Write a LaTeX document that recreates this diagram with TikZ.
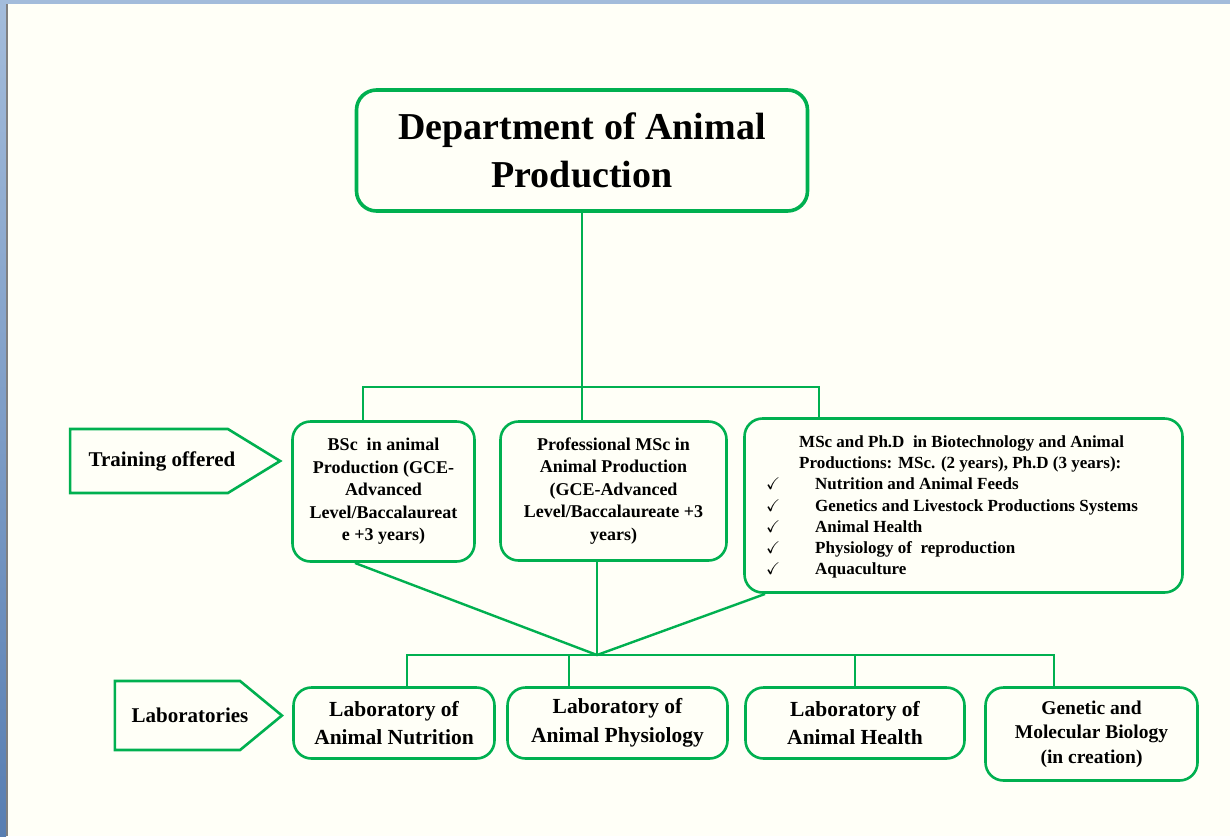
\documentclass[tikz,border=0pt]{standalone}
\usepackage{fontspec}
\usepackage{amssymb}
\setmainfont{Liberation Serif}
\usetikzlibrary{shapes.symbols}

\definecolor{boxgreen}{RGB}{0,176,80}
\definecolor{pageivory}{RGB}{255,255,247}
\definecolor{frameblue}{RGB}{163,188,219}
\definecolor{framedark}{RGB}{88,126,178}

\begin{document}
\begin{tikzpicture}[x=1pt,y=-1pt,
    box/.style={draw=boxgreen,line width=2.6pt,rounded corners=18pt,fill=pageivory,
      align=center,inner sep=0pt,font=\bfseries\fontsize{18}{22.5}\selectfont},
    labbox/.style={box,font=\bfseries\fontsize{21.5}{28.5}\selectfont},
    tagbox/.style={draw=boxgreen,line width=2.6pt,shape=signal,signal to=east,inner sep=0pt},
    tagtext/.style={inner sep=0pt,font=\bfseries\fontsize{21}{24}\selectfont},
    link/.style={draw=boxgreen,line width=2.4pt}]
    \useasboundingbox (0,0) rectangle (1230,836);

    % Page and window frame
    \fill[pageivory] (0,0) rectangle (1230,836);
    \fill[frameblue] (0,0) rectangle (1230,4);
    \shade[top color=frameblue,bottom color=framedark] (0,4) rectangle (6,836);
    \fill[gray] (6,4) rectangle (8,836);

    % Department
    \node[box,line width=3.6pt,rounded corners=20pt,minimum width=451,minimum height=121,
      font=\bfseries\fontsize{38}{48}\selectfont] (dept) at (582,150.5)
      {Department of Animal\\Production};

    % Training offered
    \node[box] (bsc) at (383.5,491.5) [minimum width=182,minimum height=140]
      {BSc\ \ in animal\\Production (GCE-\\Advanced\\Level/Baccalaureat\\e +3 years)};
    \node[box] (msc) at (613.5,491) [minimum width=226,minimum height=139]
      {Professional MSc in\\Animal Production\\(GCE-Advanced\\Level/Baccalaureate +3\\years)};
    \node[box] (phd) at (963.5,505.5) [minimum width=438,minimum height=174] {};
    \node[anchor=north west,inner sep=0pt,align=left,
      font=\bfseries\fontsize{17}{21.3}\selectfont] (phdtext) at (766,432) {%
      \begin{tabular}{@{}p{49pt}@{}l@{}}
        \multicolumn{2}{@{\hspace{33pt}}l@{}}{MSc and Ph.D\ \ in Biotechnology and Animal}\\
        \multicolumn{2}{@{\hspace{33pt}}l@{}}{Productions: MSc. (2 years), Ph.D (3 years):}\\
        $\checkmark$ & Nutrition and Animal Feeds\\
        $\checkmark$ & Genetics and Livestock Productions Systems\\
        $\checkmark$ & Animal Health\\
        $\checkmark$ & Physiology of\ \ reproduction\\
        $\checkmark$ & Aquaculture
      \end{tabular}};

    % Laboratories
    \node[labbox] (labnut) at (394,723) [minimum width=201,minimum height=71]
      {Laboratory of\\Animal Nutrition};
    \node[labbox] (labphy) at (617.5,723) [minimum width=220,minimum height=71]
      {Laboratory of\\Animal Physiology};
    \node[labbox] (labhea) at (855,723) [minimum width=219,minimum height=71]
      {Laboratory of\\Animal Health};
    \node[labbox,font=\bfseries\fontsize{19.5}{24.5}\selectfont] (labgen) at (1091.5,734)
      [minimum width=212,minimum height=93]
      {Genetic and\\Molecular Biology\\(in creation)};

    % Side tags
    \node[tagbox,minimum width=210,minimum height=64,signal pointer angle=63] (trainingtag)
      at (149,461) {};
    \node[tagtext] (trainingtext) at (162,461) {Training offered};
    \node[tagbox,minimum width=167,minimum height=69,signal pointer angle=79] (labtag)
      at (177.5,715.5) {};
    \node[tagtext] (labtext) at (190,715.5) {Laboratories};

    % Upper connectors
    \coordinate (topbus) at (582,387);
    \coordinate (bscin) at (363,420);
    \coordinate (phdin) at (819,417);
    \draw[link] (dept.south) -- (dept.south |- msc.north);
    \draw[link] (bscin) -- (bscin |- topbus) -- (phdin |- topbus) -- (phdin);

    % Lower connectors
    \coordinate (hub) at (597,655);
    \coordinate (bscout) at (355,563);
    \coordinate (mscout) at (597,562);
    \coordinate (phdout) at (765,594);
    \coordinate (nutin) at (407,686);
    \coordinate (phyin) at (569,686);
    \coordinate (heain) at (855,686);
    \coordinate (genin) at (1054,686);
    \draw[link] (bscout) -- (hub) -- (phdout);
    \draw[link] (mscout) -- (hub);
    \draw[link] (nutin) -- (nutin |- hub) -- (genin |- hub) -- (genin);
    \draw[link] (phyin) -- (phyin |- hub);
    \draw[link] (heain) -- (heain |- hub);
\end{tikzpicture}
\end{document}
